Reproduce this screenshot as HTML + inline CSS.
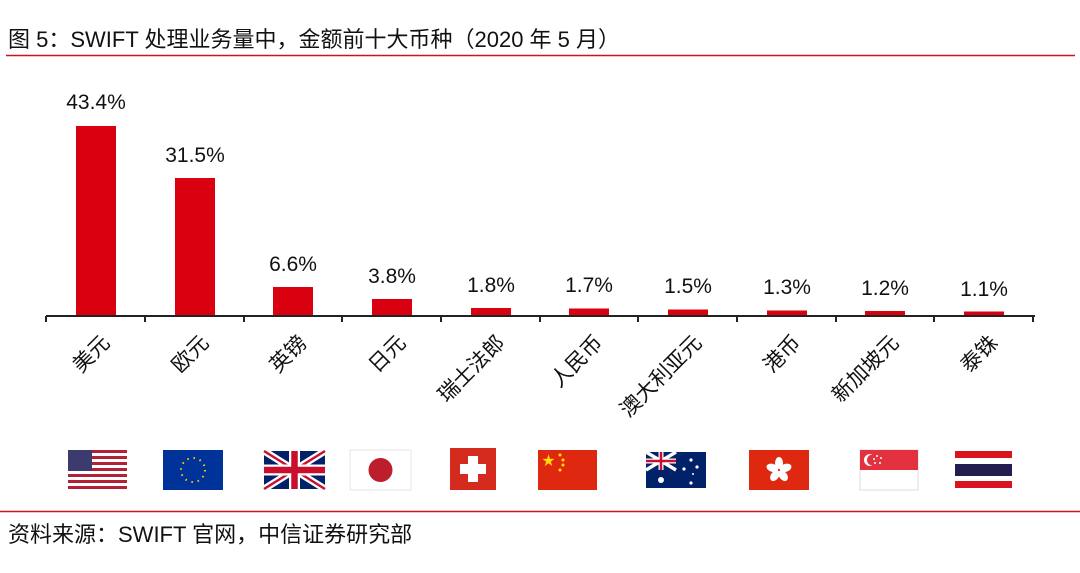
<!DOCTYPE html>
<html><head><meta charset="utf-8"><style>
body{margin:0;background:#fff;}
svg{display:block;font-family:"Liberation Sans","Noto Sans CJK SC",sans-serif;}
</style></head><body>
<svg width="1080" height="573" viewBox="0 0 1080 573">
<text x="8" y="47" font-size="22" fill="#111">图 5：SWIFT 处理业务量中，金额前十大币种（2020 年 5 月）</text>
<line x1="6" y1="55.5" x2="1075" y2="55.5" stroke="#c8161d" stroke-width="1.5"/>
<g fill="#d9000f">
<rect x="76" y="126" width="40" height="190"/>
<rect x="175" y="178" width="40" height="138"/>
<rect x="273" y="287" width="40" height="29"/>
<rect x="372" y="299" width="40" height="17"/>
<rect x="471" y="308" width="40" height="8"/>
<rect x="569" y="308.5" width="40" height="7.5"/>
<rect x="668" y="309.5" width="40" height="6.5"/>
<rect x="767" y="310.5" width="40" height="5.5"/>
<rect x="865" y="311" width="40" height="5"/>
<rect x="964" y="311.5" width="40" height="4.5"/>
</g>
<g font-size="21" fill="#111" text-anchor="middle">
<text x="96" y="109">43.4%</text><text x="195" y="162">31.5%</text><text x="293" y="271">6.6%</text>
<text x="392" y="283">3.8%</text><text x="491" y="292">1.8%</text><text x="589" y="292">1.7%</text>
<text x="688" y="293">1.5%</text><text x="787" y="294">1.3%</text><text x="885" y="295">1.2%</text>
<text x="984" y="296">1.1%</text>
</g>
<g stroke="#222" stroke-width="2" fill="none">
<line x1="46" y1="316" x2="1035" y2="316"/>
<path d="M46 316v6M145 316v6M244 316v6M342 316v6M441 316v6M540 316v6M638 316v6M737 316v6M836 316v6M934 316v6M1033 316v6"/>
</g>
<g font-size="21" fill="#111" text-anchor="end">
<text transform="translate(111,344) rotate(-45)">美元</text>
<text transform="translate(210,344) rotate(-45)">欧元</text>
<text transform="translate(308,344) rotate(-45)">英镑</text>
<text transform="translate(407,344) rotate(-45)">日元</text>
<text transform="translate(506,344) rotate(-45)">瑞士法郎</text>
<text transform="translate(604,344) rotate(-45)">人民币</text>
<text transform="translate(703,344) rotate(-45)">澳大利亚元</text>
<text transform="translate(802,344) rotate(-45)">港币</text>
<text transform="translate(900,344) rotate(-45)">新加坡元</text>
<text transform="translate(999,344) rotate(-45)">泰铢</text>
</g>
<g transform="translate(68,450)">
<rect width="59" height="39" fill="#fff"/>
<g fill="#b22234"><rect y="0" width="59" height="3"/><rect y="6" width="59" height="3"/><rect y="12" width="59" height="3"/><rect y="18" width="59" height="3"/><rect y="24" width="59" height="3"/><rect y="30" width="59" height="3"/><rect y="36" width="59" height="3"/></g>
<rect width="24" height="21" fill="#3c3b6e"/>
</g>
<g transform="translate(163,450)">
<rect width="60" height="40" fill="#003399"/>
<circle cx="30" cy="20" r="12" fill="none" stroke="#ffcc00" stroke-width="2" stroke-dasharray="1.5 4.8"/>
</g>
<g transform="translate(264,451)">
<rect width="61" height="38" fill="#012169"/>
<path d="M0 0L61 38M61 0L0 38" stroke="#fff" stroke-width="7"/>
<path d="M0 0L61 38M61 0L0 38" stroke="#c8102e" stroke-width="2.5"/>
<path d="M30.5 0V38M0 19H61" stroke="#fff" stroke-width="11"/>
<path d="M30.5 0V38M0 19H61" stroke="#c8102e" stroke-width="6.5"/>
</g>
<g transform="translate(350,450)">
<rect width="61" height="40" fill="#fff" stroke="#e6e6e6"/>
<circle cx="30.5" cy="20" r="12" fill="#bc1e2d"/>
</g>
<g transform="translate(450,448)">
<rect width="46" height="42" fill="#d52b1e"/>
<rect x="18" y="8" width="10" height="26" fill="#fff"/><rect x="10" y="16" width="26" height="10" fill="#fff"/>
</g>
<g transform="translate(538,450)">
<rect width="59" height="40" fill="#de2910"/>
<text x="4" y="15" font-size="13" fill="#ffde00">★</text>
<g fill="#ffde00"><circle cx="22" cy="5" r="1.5"/><circle cx="25" cy="10" r="1.5"/><circle cx="25" cy="15" r="1.5"/><circle cx="22" cy="20" r="1.5"/></g>
</g>
<g transform="translate(646,452)">
<rect width="60" height="36" fill="#012169"/>
<path d="M0 0L30 18M30 0L0 18" stroke="#fff" stroke-width="3.5"/>
<path d="M15 0V18M0 9H30" stroke="#fff" stroke-width="5"/>
<path d="M15 0V18M0 9H30" stroke="#c8102e" stroke-width="2.5"/>
<g fill="#fff"><circle cx="15" cy="28" r="3"/><circle cx="45" cy="8" r="1.6"/><circle cx="51" cy="15" r="1.6"/><circle cx="38" cy="17" r="1.6"/><circle cx="45" cy="31" r="1.6"/><circle cx="47" cy="22" r="1"/></g>
</g>
<g transform="translate(749,450)">
<rect width="60" height="40" fill="#de2910"/>
<g fill="#fff" transform="translate(30,20)">
<ellipse cx="0" cy="-7" rx="4" ry="6"/><ellipse cx="0" cy="-7" rx="4" ry="6" transform="rotate(72)"/><ellipse cx="0" cy="-7" rx="4" ry="6" transform="rotate(144)"/><ellipse cx="0" cy="-7" rx="4" ry="6" transform="rotate(216)"/><ellipse cx="0" cy="-7" rx="4" ry="6" transform="rotate(288)"/>
</g>
</g>
<g transform="translate(860,450)">
<rect width="58" height="40" fill="#fff" stroke="#ddd"/>
<rect width="58" height="20" fill="#e4313f"/>
<circle cx="10" cy="10" r="6" fill="#fff"/><circle cx="12.5" cy="10" r="5.5" fill="#e4313f"/>
<g fill="#fff"><circle cx="17" cy="6" r="1"/><circle cx="21" cy="8" r="1"/><circle cx="20" cy="13" r="1"/><circle cx="15" cy="13" r="1"/><circle cx="14" cy="9" r="1"/></g>
</g>
<g transform="translate(955,451)">
<rect width="57" height="37" fill="#fff"/>
<rect width="57" height="7" fill="#d9141e"/><rect y="30" width="57" height="7" fill="#d9141e"/>
<rect y="13" width="57" height="12" fill="#241d4f"/>
</g>
<line x1="0" y1="511.5" x2="1080" y2="511.5" stroke="#c8161d" stroke-width="1.5"/>
<text x="8" y="542" font-size="22" fill="#111">资料来源：SWIFT 官网，中信证券研究部</text>
</svg>
</body></html>
